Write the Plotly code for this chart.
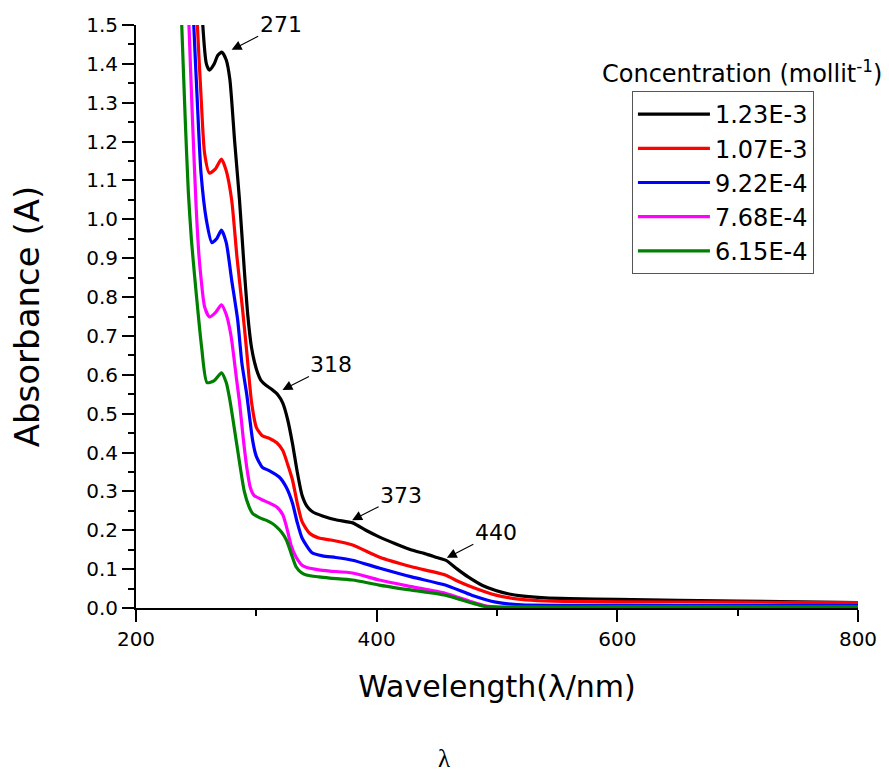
import plotly.graph_objects as go

# ---- data ----
concentrations = ["1.23E-3", "1.07E-3", "9.22E-4", "7.68E-4", "6.15E-4"]
colors = ["#000000", "#ff0000", "#0000ff", "#ff00ff", "#008000"]

wl_k = [250, 253, 255.5, 258.5, 261, 265, 268, 271.5, 275, 278, 282, 286, 290, 293, 296, 300, 304,
        308, 313, 318, 322, 326, 330, 334, 338, 342, 347, 355, 366, 380, 391, 402, 415, 429, 440,
        450, 458, 467, 476, 488, 499, 510, 520, 540, 560, 600, 700, 800]
abs_k = [1.9, 1.7, 1.5, 1.40, 1.384, 1.40, 1.422, 1.43, 1.41, 1.36, 1.20, 1.05, 0.87, 0.75, 0.67,
         0.615, 0.585, 0.573, 0.562, 0.548, 0.527, 0.485, 0.424, 0.35, 0.29, 0.262, 0.247, 0.237,
         0.227, 0.219, 0.20, 0.183, 0.166, 0.149, 0.140, 0.130, 0.122, 0.10, 0.08, 0.058, 0.045,
         0.036, 0.031, 0.026, 0.024, 0.022, 0.018, 0.014]

wl_r = [248, 251, 254, 257, 261, 266, 271, 275, 279.5, 284, 288.5, 292, 296, 300, 305, 311, 317,
        322, 326, 330, 334, 338, 344, 352, 362, 380, 402, 429, 457, 468, 479, 499, 520, 540, 560,
        600, 700, 800]
abs_r = [1.75, 1.5, 1.32, 1.17, 1.119, 1.13, 1.155, 1.125, 1.05, 0.90, 0.77, 0.66, 0.53, 0.465,
         0.443, 0.436, 0.425, 0.405, 0.37, 0.33, 0.27, 0.222, 0.193, 0.18, 0.175, 0.162, 0.131,
         0.106, 0.085, 0.068, 0.054, 0.033, 0.022, 0.018, 0.017, 0.016, 0.015, 0.014]

wl_b = [245, 248, 251, 254, 258.5, 263, 267, 271, 275, 279.5, 284.5, 288, 292, 297, 300, 305, 311,
        319, 325, 330, 334, 338, 346, 355, 366, 380, 402, 429, 457, 479, 499, 520, 560, 600, 700, 800]
abs_b = [1.75, 1.5, 1.3, 1.12, 0.998, 0.94, 0.95, 0.972, 0.94, 0.844, 0.741, 0.63, 0.55, 0.43,
         0.39, 0.362, 0.353, 0.337, 0.31, 0.27, 0.22, 0.18, 0.143, 0.134, 0.13, 0.123, 0.103,
         0.08, 0.059, 0.033, 0.015, 0.008, 0.007, 0.007, 0.006, 0.006]

wl_m = [241, 244, 247, 250, 252, 254, 257, 261, 266, 271, 275, 279, 283.5, 286, 289, 292, 295, 298,
        305, 311, 317, 322, 325, 329, 333, 338, 342, 352, 361, 380, 402, 429, 457, 479, 493, 510,
        600, 800]
abs_m = [1.75, 1.5, 1.25, 1.03, 0.92, 0.85, 0.775, 0.749, 0.76, 0.78, 0.755, 0.70, 0.59, 0.53,
         0.44, 0.363, 0.31, 0.29, 0.278, 0.27, 0.26, 0.24, 0.21, 0.16, 0.131, 0.11, 0.104, 0.098,
         0.095, 0.09, 0.072, 0.055, 0.038, 0.016, 0.004, 0.002, 0.002, 0.002]

wl_g = [235, 238, 241, 243.5, 246, 249, 254.5, 259, 265, 271, 275, 278, 283.6, 290, 294, 297, 303,
        308, 313, 317, 321, 325, 329, 333, 337, 341.5, 352, 361, 380, 402, 429, 457, 479, 490, 500,
        600, 800]
abs_g = [1.75, 1.5, 1.25, 1.07, 0.95, 0.844, 0.672, 0.58, 0.585, 0.605, 0.58, 0.535, 0.424, 0.30,
         0.26, 0.243, 0.232, 0.226, 0.218, 0.208, 0.195, 0.175, 0.14, 0.106, 0.092, 0.085, 0.08,
         0.077, 0.072, 0.059, 0.046, 0.033, 0.013, 0.004, 0.002, 0.002, 0.002]

series_x = [wl_k, wl_r, wl_b, wl_m, wl_g]
series_y = [abs_k, abs_r, abs_b, abs_m, abs_g]

# peak annotations: label, wavelength / absorbance of arrow tip
peak_labels = ["271", "318", "373", "440"]
peak_tip_wl = [279.5, 321.7, 379.6, 458.3]
peak_tip_abs = [1.436, 0.561, 0.226, 0.129]

FONT = "DejaVu Sans"
PL, PR, PT, PB = 136, 861, 25, 608  # plot-area pixel box


def px_x(v):
    return (v - PL) / (PR - PL)


def px_y(v):
    return (PB - v) / (PB - PT)


fig = go.Figure()
for name, xs, ys, col in zip(concentrations, series_x, series_y, colors):
    fig.add_trace(go.Scatter(
        x=xs, y=ys, mode="lines", name=name, legendgroup=name,
        line=dict(color=col, width=3.2, shape="spline", smoothing=0.6),
    ))

annotations = []
for lab, tx, ty in zip(peak_labels, peak_tip_wl, peak_tip_abs):
    annotations.append(dict(
        x=tx, y=ty, xref="x", yref="y", text=lab, showarrow=True,
        arrowhead=2, arrowsize=1.8, arrowwidth=1.1, arrowcolor="#000",
        ax=49, ay=-25, font=dict(family=FONT, size=22, color="#000"),
    ))
annotations.append(dict(
    x=px_x(745), y=px_y(72), xref="paper", yref="paper", xanchor="center", yanchor="middle",
    text="Concentration (mollit<sup>-1</sup>)",
    showarrow=False, font=dict(family=FONT, size=24, color="#000"),
))
annotations.append(dict(
    x=px_x(445), y=px_y(758), xref="paper", yref="paper", xanchor="center", yanchor="middle",
    text="λ", showarrow=False,
    font=dict(family="Liberation Serif", size=25, color="#000"),
))

fig.update_layout(
    width=889, height=774,
    margin=dict(l=PL, r=889 - PR, t=PT, b=774 - PB),
    paper_bgcolor="white", plot_bgcolor="white",
    font=dict(family=FONT, color="#000"),
    showlegend=True,
    legend=dict(
        x=px_x(634), y=px_y(91), xanchor="left", yanchor="top",
        bordercolor="#555", borderwidth=1, bgcolor="white",
        font=dict(family=FONT, size=24), tracegroupgap=0, itemwidth=72,
    ),
    xaxis=dict(
        range=[200, 800], tickvals=[200, 400, 600, 800], showgrid=False, zeroline=False,
        showline=True, linecolor="#000", linewidth=2, ticks="outside", ticklen=12,
        tickwidth=2, tickcolor="#000", tickfont=dict(family=FONT, size=20),
        minor=dict(dtick=100, ticks="outside", ticklen=6, tickwidth=2, tickcolor="#000"),
        title=dict(text="Wavelength(λ/nm)", font=dict(family=FONT, size=30), standoff=26),
    ),
    yaxis=dict(
        range=[0, 1.5], dtick=0.1, tickformat=".1f", showgrid=False, zeroline=False,
        showline=True, linecolor="#000", linewidth=2, ticks="outside", ticklen=12,
        tickwidth=2, tickcolor="#000", tickfont=dict(family=FONT, size=20),
        minor=dict(dtick=0.05, ticks="outside", ticklen=6, tickwidth=2, tickcolor="#000"),
        title=dict(text="Absorbance (A)", font=dict(family=FONT, size=34), standoff=36),
    ),
    annotations=annotations,
)

fig.write_html("out.html")
